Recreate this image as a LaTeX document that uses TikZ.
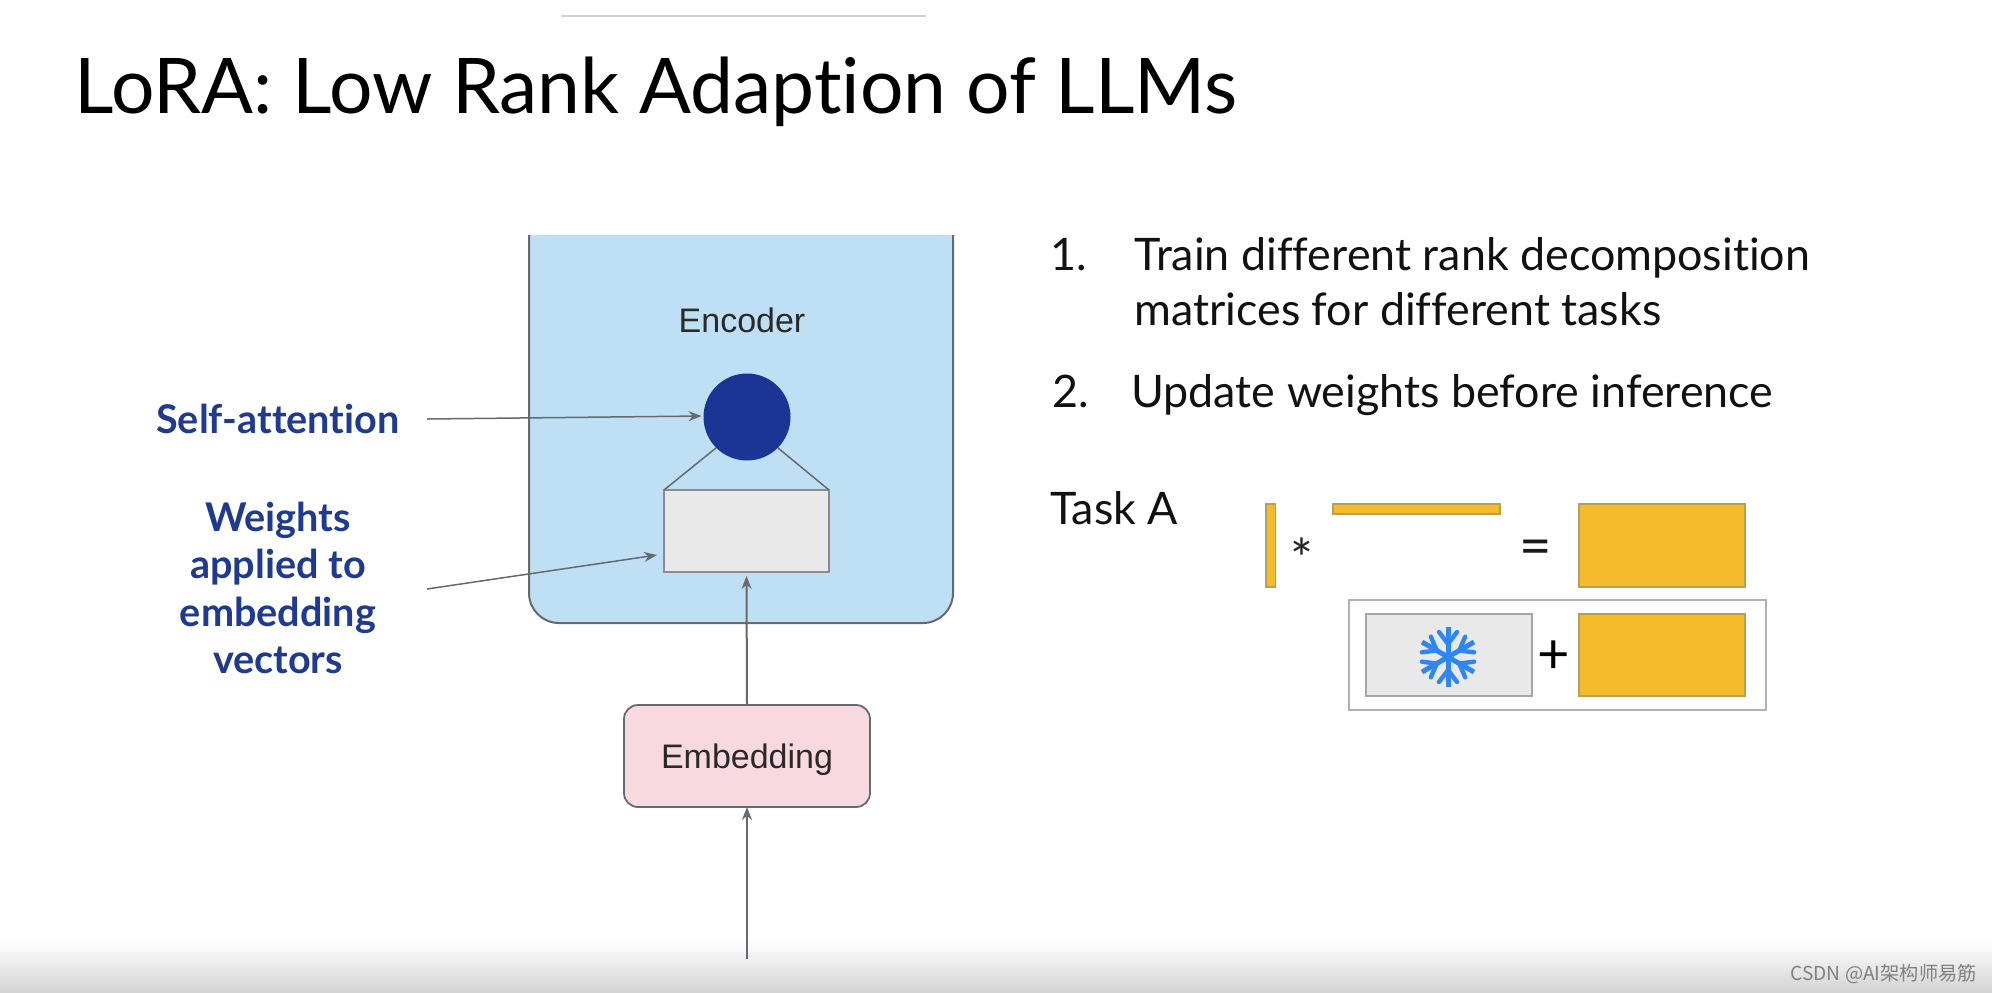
\documentclass[tikz,border=0pt]{standalone}
\usepackage{fontspec}
\setmainfont[Ligatures=NoCommon]{Lato}
\newfontfamily\arialf{Liberation Sans}
\newfontfamily\cjkf{Noto Sans CJK SC}
\usetikzlibrary{arrows.meta}
\definecolor{encblue}{HTML}{BFE0F4}
\definecolor{edgegray}{HTML}{666A6E}
\definecolor{navy}{HTML}{1C3494}
\definecolor{labelblue}{HTML}{1F3A8F}
\definecolor{boxgray}{HTML}{E9E9E9}
\definecolor{pinkbox}{HTML}{F8D9E0}
\definecolor{gold}{HTML}{F3BB2C}
\definecolor{goldedge}{HTML}{B8A050}
\definecolor{flake}{HTML}{2F86F2}
\definecolor{textblack}{HTML}{111111}
\tikzset{
  x=0.5pt,y=-0.5pt,
  pxbox/.style={inner sep=0pt,outer sep=0pt,anchor=north west},
  goldbox/.style={pxbox,fill=gold,draw=goldedge,line width=0.6pt},
  graybox/.style={pxbox,fill=boxgray,draw=gray!85,line width=0.8pt},
  conn/.style={draw=edgegray,line width=0.75pt},
  arrowconn/.style={conn,-{Stealth[length=6.5pt,width=5pt]}},
  bluelabel/.style={text=labelblue,font=\fontsize{19.8}{23.8}\selectfont\bfseries,align=center,inner sep=0pt},
  bodytext/.style={text=textblack,font=\fontsize{22.4}{22.4}\selectfont,anchor=base west,inner sep=0pt},
  diagramtext/.style={text=textblack!90,font=\arialf\fontsize{17}{17}\selectfont,inner sep=0pt},
}
\begin{document}
\begin{tikzpicture}
\useasboundingbox (0,0) rectangle (1992,992);
\fill[white] (0,0) rectangle (1992,992);
\shade[top color=white,bottom color=black!17,shading angle=0] (0,940) rectangle (1992,992);
\fill[black!18] (561,15) rectangle (926,17);

\node[anchor=base west,inner sep=0pt,text=black,font=\fontsize{38.4}{38.4}\selectfont] (title) at (74,113) {LoRA: Low Rank Adaption of LLMs};

% encoder
\coordinate (enctl) at (529,235);
\coordinate (enctr) at (953,235);
\coordinate (encbr) at (953,623);
\coordinate (encbl) at (529,623);
\fill[encblue,rounded corners=15pt] (enctl) ++(0,-30) -- (encbl) -- (encbr) -- (953,205) -- cycle;
\fill[white] (500,200) rectangle (980,235);
\draw[conn,line width=1pt,rounded corners=15pt] (enctl) -- (encbl) -- (encbr) -- (enctr);
\node[diagramtext] (enc) at (742,320) {Encoder};

\node[circle,fill=navy,minimum size=43.5pt,inner sep=0pt,outer sep=0pt] (att) at (747,417) {};
\node[graybox,draw=gray!90,minimum width=82.5pt,minimum height=41pt] (wt) at (664,490) {};
\draw[conn] (wt.north west) -- (att.225);
\draw[conn] (wt.north east) -- (att.-45);

\node[pxbox,anchor=north,fill=pinkbox,draw=edgegray,line width=0.9pt,rounded corners=7pt,minimum width=123pt,minimum height=51pt,text depth=0pt,font=\arialf\fontsize{17}{17}\selectfont,text=textblack!90] (emb) at (747,705) {Embedding};

\coordinate (inp) at (747,959);
\draw[arrowconn,line width=1pt] (emb.north) -- ([yshift=-2pt]wt.south);
\draw[arrowconn,line width=1pt] (inp) -- (emb.south);

\node[bluelabel] (sa) at (278,419) {Self-attention};
\node[bluelabel] (wl) at (278,588) {Weights\\applied to\\embedding\\vectors};
\coordinate (wstart) at (427,589);
\coordinate (wend) at (657,555);
\draw[arrowconn] ([xshift=13.5pt]sa.east) -- ([xshift=-1pt,yshift=0.5pt]att.west);
\draw[arrowconn] (wstart) -- (wend);

% list
\node[bodytext] (n1) at (1050,270) {1.};
\node[bodytext] (t1a) at (1134,270) {Train different rank decomposition};
\node[bodytext] (t1b) at (1134,325) {matrices for different tasks};
\node[bodytext] (n2) at (1052,407) {2.};
\node[bodytext] (t2) at (1131,407) {Update weights before inference};
\node[bodytext] (task) at (1050,524) {Task A};

% matrices
\node[goldbox,minimum width=4.75pt,minimum height=41.5pt] (u) at (1266,504) {};
\node[goldbox,minimum width=83.5pt,minimum height=5pt] (v) at (1333,504) {};
\node[goldbox,minimum width=83pt,minimum height=41.5pt] (res) at (1579,504) {};
\node[pxbox,draw=black!30,line width=0.8pt,minimum width=208.5pt,minimum height=55pt] (frame) at (1349,600) {};
\node[graybox,draw=black!35,minimum width=83pt,minimum height=41pt] (frozen) at (1366,614) {};
\node[goldbox,minimum width=83pt,minimum height=41pt] (delta) at (1579,614) {};

\node[inner sep=0pt,text=black!85,font=\fontsize{27}{27}\selectfont] (star) at (1302,558) {*};
\node[inner sep=0pt,text=black!90,font=\fontsize{28}{28}\selectfont] (eq) at (1536,553) {=};
\node[inner sep=0pt,text=black,font=\fontsize{28}{28}\selectfont] (plus) at (1554,657) {+};

% snowflake
\begin{scope}[shift={(1448,657)}]
  \foreach \a in {30,90,150,210,270,330} {
    \begin{scope}[rotate=\a]
      \draw[flake,line width=2.5pt,line cap=butt] (0,0) -- (30,0);
      \draw[flake,line width=2.2pt,line cap=round] (13,0) -- (25,-9);
      \draw[flake,line width=2.2pt,line cap=round] (13,0) -- (25,9);
    \end{scope}
  }
\end{scope}

\node[anchor=base east,inner sep=0pt,text=black!50,font=\cjkf\fontsize{9.6}{9.6}\selectfont] (wm) at (1977,980) {CSDN @AI架构师易筋};
\end{tikzpicture}
\end{document}
